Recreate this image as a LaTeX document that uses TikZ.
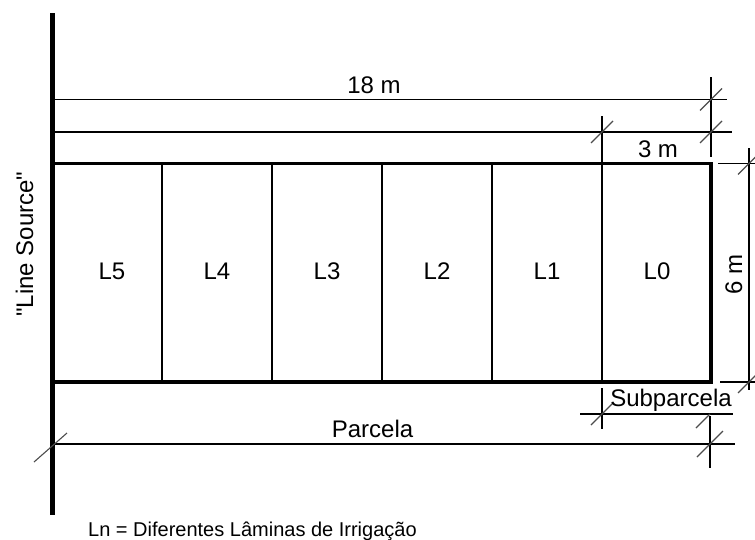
\documentclass[tikz,border=0pt]{standalone}
\usepackage{fontspec}
\setmainfont{Liberation Sans}
\begin{document}
\begin{tikzpicture}[x=1pt,y=-1pt,
  thickline/.style={line width=5pt},
  border/.style={line width=3.5pt},
  thinline/.style={line width=1.8pt},
  ticksty/.style={line width=1.1pt, black!70},
  lbl/.style={font=\fontsize{24}{28}\selectfont, inner sep=0pt, anchor=base},
  leglbl/.style={font=\fontsize{20}{24}\selectfont, inner sep=0pt, anchor=base west}]
\useasboundingbox (0,0) rectangle (755,539);
\newcommand\archtick[2][11]{\draw[ticksty,shift={(#2)}] (-#1,#1) -- (#1,-#1);}
% line source
\coordinate (ls1) at (52,13);
\coordinate (ls2) at (52,515);
\draw[thickline] (ls1) -- (ls2);
% plot rectangle
\coordinate (r1) at (52,163.5);
\coordinate (r2) at (711,382);
\foreach \i/\x in {1/162,2/272,3/382,4/492}{
  \coordinate (dt\i) at (\x,163.5);
  \coordinate (db\i) at (\x,382);
  \draw[thinline] (dt\i) -- (db\i);
}
\coordinate (d5t) at (602,116);
\coordinate (d5b) at (602,382);
\draw[thinline] (d5t) -- (d5b);
\draw[border] (r1) rectangle (r2);
% strip labels
\foreach \n/\x in {L5/112,L4/217,L3/327,L2/437,L1/547,L0/657}{
  \node[lbl] (\n) at (\x,279) {\n};
}
% 18 m dimension
\coordinate (a1) at (52,99.5);
\coordinate (a2) at (727,99.5);
\coordinate (t18) at (711,99.5);
\coordinate (e1) at (711,77);
\coordinate (e2) at (711,157);
\draw[thinline] (a1) -- (a2);
\draw[thinline] (e1) -- (e2);
\archtick{t18}
\node[lbl] (m18) at (374,93) {18 m};
% 3 m dimension
\coordinate (b1) at (52,132);
\coordinate (b2) at (732,132);
\coordinate (t3a) at (602,132);
\coordinate (t3b) at (711,132);
\draw[thinline] (b1) -- (b2);
\archtick{t3a}
\archtick{t3b}
\node[lbl] (m3) at (658,157) {3 m};
% 6 m dimension
\coordinate (c1) at (749,148);
\coordinate (c2) at (749,390);
\coordinate (h1) at (718,163.5);
\coordinate (h1e) at (755,163.5);
\coordinate (h2) at (720,382);
\coordinate (h2e) at (755,382);
\draw[thinline] (c1) -- (c2);
\draw[thinline] (h1) -- (h1e);
\draw[thinline] (h2) -- (h2e);
\coordinate (t6a) at (749,163.5);
\coordinate (t6b) at (749,382);
\archtick{t6a}
\archtick{t6b}
\node[lbl,rotate=90] (m6) at (742,274) {6 m};
% Subparcela dimension
\coordinate (s1) at (580,414);
\coordinate (s2) at (733,414);
\coordinate (sv1) at (602,388);
\coordinate (sv2) at (602,429);
\coordinate (pv1) at (710,416);
\coordinate (pv2) at (710,468);
\draw[thinline] (s1) -- (s2);
\draw[thinline] (sv1) -- (sv2);
\draw[thinline] (pv1) -- (pv2);
\coordinate (ts1) at (602,414);
\coordinate (ts2) at (710,414);
\archtick{ts1}
\draw[ticksty,shift={(ts2)}] (-14,14) -- (0,0);
\node[lbl] (sub) at (671,406) {Subparcela};
% Parcela dimension
\coordinate (p1) at (52,444);
\coordinate (p2) at (735,444);
\draw[thinline] (p1) -- (p2);
\coordinate (tp1) at (52,444);
\coordinate (tp2) at (710,444);
\draw[ticksty,shift={(tp1)}] (-18,18) -- (15,-11);
\archtick[13]{tp2}
\node[lbl] (par) at (372.5,437) {Parcela};
% line source label
\node[lbl,rotate=90] (lsl) at (33,244) {\textquotedbl Line Source\textquotedbl};
% legend
\node[leglbl] (leg) at (88,536) {Ln = Diferentes Lâminas de Irrigação};
\end{tikzpicture}
\end{document}
